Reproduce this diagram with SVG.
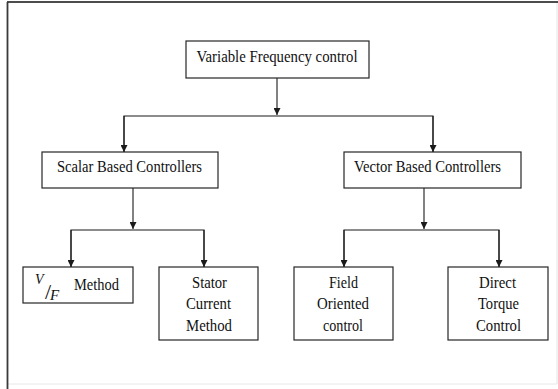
<svg xmlns="http://www.w3.org/2000/svg" width="558" height="389" viewBox="0 0 558 389">
  <style>
    .box { fill: #ffffff; stroke: #262626; stroke-width: 1.2; }
    .lbl { font-family: "Liberation Serif", "Times New Roman", serif; font-size: 17px; fill: #111111; text-anchor: middle; }
    .conn { stroke: #1a1a1a; stroke-width: 1.1; fill: none; }
    .math { font-family: "Liberation Serif", "Times New Roman", serif; fill: #111111; }
  </style>
  <defs>
    <marker id="arrow" viewBox="0 0 10 10" refX="10" refY="5" markerWidth="7" markerHeight="7" markerUnits="userSpaceOnUse" orient="auto">
      <path d="M0,0 L10,5 L0,10 Z" fill="#1a1a1a"/>
    </marker>
  </defs>

  <!-- page frame -->
  <rect x="0" y="0" width="558" height="389" fill="#ffffff"/>
  <line x1="557" y1="2" x2="557" y2="384" stroke="#e4e4e4" stroke-width="1"/>
  <line x1="7" y1="384" x2="557" y2="384" stroke="#e8e8e8" stroke-width="1"/>
  <line x1="7" y1="2" x2="558" y2="2" stroke="#111111" stroke-width="1.6"/>
  <line x1="7.5" y1="2" x2="7.5" y2="389" stroke="#3a3a3a" stroke-width="1.8"/>

  <!-- connectors -->
  <g id="connectors">
    <line class="conn" x1="277" y1="78" x2="277" y2="115" marker-end="url(#arrow)"/>
    <polyline class="conn" points="124,152 124,116 433,116 433,152"/>
    <line class="conn" x1="124" y1="116" x2="124" y2="152" marker-end="url(#arrow)"/>
    <line class="conn" x1="433" y1="116" x2="433" y2="152" marker-end="url(#arrow)"/>

    <line class="conn" x1="133" y1="188" x2="133" y2="229" marker-end="url(#arrow)"/>
    <polyline class="conn" points="71,267 71,230 204,230 204,267"/>
    <line class="conn" x1="71" y1="230" x2="71" y2="267" marker-end="url(#arrow)"/>
    <line class="conn" x1="204" y1="230" x2="204" y2="267" marker-end="url(#arrow)"/>

    <line class="conn" x1="424" y1="188" x2="424" y2="229" marker-end="url(#arrow)"/>
    <polyline class="conn" points="344,267 344,230 499,230 499,267"/>
    <line class="conn" x1="344" y1="230" x2="344" y2="267" marker-end="url(#arrow)"/>
    <line class="conn" x1="499" y1="230" x2="499" y2="267" marker-end="url(#arrow)"/>
  </g>

  <!-- nodes -->
  <g id="vfc">
    <rect class="box" x="186" y="41" width="183" height="37"/>
    <text class="lbl" x="277" y="61.5" textLength="161" lengthAdjust="spacingAndGlyphs">Variable Frequency control</text>
  </g>

  <g id="scalar">
    <rect class="box" x="42" y="152" width="176" height="36"/>
    <text class="lbl" x="129.5" y="172" textLength="145" lengthAdjust="spacingAndGlyphs">Scalar Based Controllers</text>
  </g>

  <g id="vector">
    <rect class="box" x="344" y="152" width="177" height="36"/>
    <text class="lbl" x="427.5" y="172" textLength="147" lengthAdjust="spacingAndGlyphs">Vector Based Controllers</text>
  </g>

  <g id="vf-method">
    <rect class="box" x="23" y="267" width="110" height="36"/>
    <text class="math" x="35" y="284" font-size="14" font-style="italic">V</text>
    <text class="math" x="45" y="299" font-size="22">/</text>
    <text class="math" x="50" y="300" font-size="15" font-style="italic">F</text>
    <text class="lbl" x="96.5" y="289.5" textLength="45" lengthAdjust="spacingAndGlyphs">Method</text>
  </g>

  <g id="stator-current">
    <rect class="box" x="159" y="267" width="99" height="73"/>
    <text class="lbl" x="209.5" y="287.5" textLength="35" lengthAdjust="spacingAndGlyphs">Stator</text>
    <text class="lbl" x="208.5" y="309" textLength="45" lengthAdjust="spacingAndGlyphs">Current</text>
    <text class="lbl" x="209" y="330.5" textLength="46" lengthAdjust="spacingAndGlyphs">Method</text>
  </g>

  <g id="field-oriented">
    <rect class="box" x="294" y="267" width="99" height="73"/>
    <text class="lbl" x="343.5" y="287.5" textLength="29" lengthAdjust="spacingAndGlyphs">Field</text>
    <text class="lbl" x="343" y="309" textLength="52" lengthAdjust="spacingAndGlyphs">Oriented</text>
    <text class="lbl" x="343" y="330.5" textLength="40" lengthAdjust="spacingAndGlyphs">control</text>
  </g>

  <g id="direct-torque">
    <rect class="box" x="448" y="267" width="100" height="73"/>
    <text class="lbl" x="497.5" y="287.5" textLength="37" lengthAdjust="spacingAndGlyphs">Direct</text>
    <text class="lbl" x="498.5" y="309" textLength="41" lengthAdjust="spacingAndGlyphs">Torque</text>
    <text class="lbl" x="498.5" y="330.5" textLength="45" lengthAdjust="spacingAndGlyphs">Control</text>
  </g>
</svg>
